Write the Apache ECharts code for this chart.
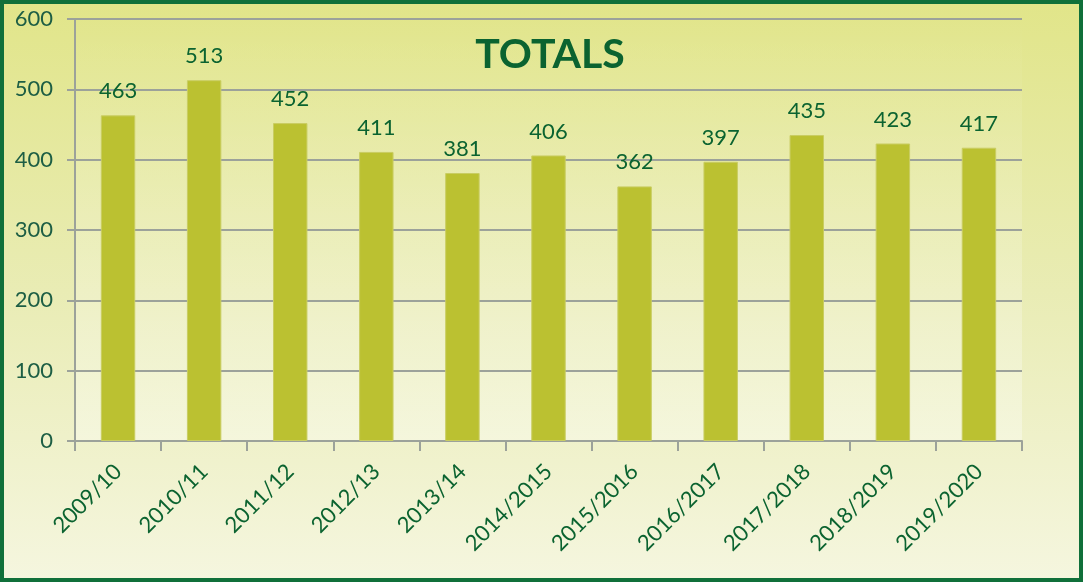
<!DOCTYPE html>
<html>
<head>
<meta charset="utf-8">
<script src="https://cdn.jsdelivr.net/npm/echarts@6/dist/echarts.min.js"></script>
<style>
  html, body { margin: 0; padding: 0; }
  #chart { width: 1083px; height: 582px; }
</style>
</head>
<body>
<div id="chart"></div>
<script>
// season labels along the x axis
const seasons = ['2009/10', '2010/11', '2011/12', '2012/13', '2013/14', '2014/2015',
  '2015/2016', '2016/2017', '2017/2018', '2018/2019', '2019/2020']
// totals per season
const totals = [463, 513, 452, 411, 381, 406, 362, 397, 435, 423, 417]

const green = '#0b6330'
const gridGrey = '#9ca29a'

const chart = echarts.init(document.getElementById('chart'))

chart.setOption({
  animation: false,
  textStyle: { fontFamily: 'Lato, "Open Sans", sans-serif' },
  graphic: [
    {
      type: 'rect',
      z: -10,
      shape: { x: 2, y: 2, width: 1079, height: 578 },
      style: {
        fill: new echarts.graphic.LinearGradient(0, 0, 0, 1, [
          { offset: 0, color: '#e1e589' },
          { offset: 0.5, color: '#e9ecb4' },
          { offset: 1, color: '#f5f6df' },
        ]),
        stroke: '#10703a',
        lineWidth: 4,
      },
    },
  ],
  title: {
    text: 'TOTALS',
    left: 545,
    top: 29,
    textAlign: 'center',
    textStyle: {
      color: green,
      fontSize: 41,
      fontWeight: 'bold',
      fontFamily: 'Lato, "Open Sans", sans-serif',
    },
  },
  grid: {
    left: 75,
    right: 61,
    top: 19,
    bottom: 141,
    show: true,
    borderWidth: 0,
    backgroundColor: new echarts.graphic.LinearGradient(0, 0, 0, 1, [
      { offset: 0, color: 'rgba(255,255,255,0)' },
      { offset: 1, color: 'rgba(255,255,255,0.35)' },
    ]),
  },
  xAxis: {
    type: 'category',
    data: seasons,
    axisLine: { lineStyle: { color: gridGrey, width: 2 } },
    axisTick: { show: true, length: 10, lineStyle: { color: gridGrey, width: 2 } },
    axisLabel: {
      rotate: 45,
      color: green,
      fontSize: 22,
      margin: 27,
      interval: 0,
    },
  },
  yAxis: {
    type: 'value',
    min: 0,
    max: 600,
    interval: 100,
    axisLine: { show: true, lineStyle: { color: gridGrey, width: 2 } },
    axisTick: { show: true, length: 8, lineStyle: { color: gridGrey, width: 2 } },
    splitLine: { lineStyle: { color: gridGrey, width: 2 } },
    axisLabel: { color: '#1d5e44', fontSize: 22, margin: 22 },
  },
  series: [
    {
      type: 'bar',
      data: totals,
      barWidth: '40%',
      itemStyle: { color: '#bbc131', borderColor: '#c9cd62', borderWidth: 1 },
      label: {
        show: true,
        position: 'top',
        distance: 13,
        color: green,
        fontSize: 22,
      },
    },
  ],
})
</script>
</body>
</html>
